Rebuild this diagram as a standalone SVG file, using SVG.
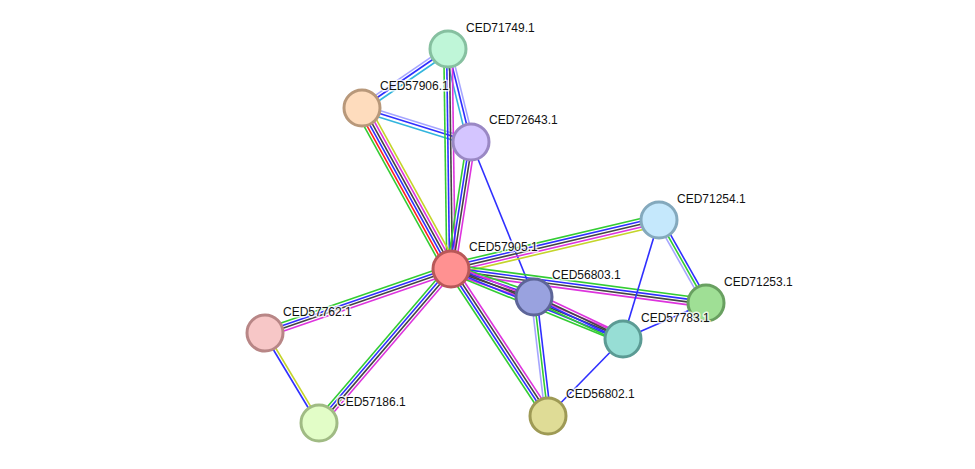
<svg xmlns="http://www.w3.org/2000/svg" width="975" height="469" viewBox="0 0 975 469">
<style>
line{stroke-width:1.6;fill:none}
.g{stroke:#33cc33}.r{stroke:#ff2020}.b{stroke:#2f2fff}.k{stroke:#444444}.m{stroke:#dd33dd}.c{stroke:#33b5dd}.y{stroke:#c4d42a}.l{stroke:#a6a6ff}
circle{stroke-width:3}
text{font-family:"Liberation Sans",Arial,sans-serif;font-size:12px;fill:#111;stroke:#fff;stroke-width:3;stroke-opacity:0.8;paint-order:stroke;stroke-linejoin:round}
</style>
<rect width="975" height="469" fill="#fff"/>
<g id="connectors">
<g transform="translate(448 49) rotate(145.55)"><line x2="104.3" y1="-3.6" y2="-3.6" class="c"/><line x2="104.3" class="b"/><line x2="104.3" y1="2.8" y2="2.8" class="l"/></g>
<g transform="translate(362 108) rotate(17.32)"><line x2="114.2" y1="-2.8" y2="-2.8" class="l"/><line x2="114.2" class="b"/><line x2="114.2" y1="3.6" y2="3.6" class="c"/></g>
<g transform="translate(448 49) rotate(76.11)"><line x2="95.8" y1="-2.8" y2="-2.8" class="l"/><line x2="95.8" class="b"/><line x2="95.8" y1="3.6" y2="3.6" class="c"/></g>
<g transform="translate(448 49) rotate(89.22)"><line x2="220" y1="-4.2" y2="-4.2" class="m"/><line x2="220" y1="-1.4" y2="-1.4" class="k"/><line x2="220" y1="1.4" y2="1.4" class="b"/><line x2="220" y1="4.2" y2="4.2" class="g"/></g>
<g transform="translate(362 108) rotate(61.06)"><line x2="184" y1="-7" y2="-7" class="y"/><line x2="184" y1="-4.2" y2="-4.2" class="m"/><line x2="184" y1="-1.4" y2="-1.4" class="k"/><line x2="184" y1="1.4" y2="1.4" class="b"/><line x2="184" y1="4.2" y2="4.2" class="r"/><line x2="184" y1="7" y2="7" class="g"/></g>
<g transform="translate(471 142) rotate(98.95)"><line x2="128.6" y1="-4.2" y2="-4.2" class="m"/><line x2="128.6" y1="-1.4" y2="-1.4" class="k"/><line x2="128.6" y1="1.4" y2="1.4" class="b"/><line x2="128.6" y1="4.2" y2="4.2" class="g"/></g>
<g transform="translate(471 142) rotate(67.88)"><line x2="167.3" class="b"/></g>
<g transform="translate(451 269) rotate(-13.26)"><line x2="213.7" y1="-5.6" y2="-5.6" class="g"/><line x2="213.7" y1="-2.8" y2="-2.8" class="b"/><line x2="213.7" class="k"/><line x2="213.7" y1="2.8" y2="2.8" class="m"/><line x2="213.7" y1="5.6" y2="5.6" class="y"/></g>
<g transform="translate(451 269) rotate(7.59)"><line x2="257.3" y1="-4.2" y2="-4.2" class="g"/><line x2="257.3" y1="-1.4" y2="-1.4" class="b"/><line x2="257.3" y1="1.4" y2="1.4" class="k"/><line x2="257.3" y1="4.2" y2="4.2" class="m"/></g>
<g transform="translate(451 269) rotate(18.64)"><line x2="87.6" y1="-4.2" y2="-4.2" class="g"/><line x2="87.6" y1="-1.4" y2="-1.4" class="b"/><line x2="87.6" y1="1.4" y2="1.4" class="k"/><line x2="87.6" y1="4.2" y2="4.2" class="m"/></g>
<g transform="translate(451 269) rotate(22.15)"><line x2="185.7" y1="-4.2" y2="-4.2" class="m"/><line x2="185.7" y1="-1.4" y2="-1.4" class="k"/><line x2="185.7" y1="1.4" y2="1.4" class="b"/><line x2="185.7" y1="4.2" y2="4.2" class="g"/></g>
<g transform="translate(451 269) rotate(56.58)"><line x2="176.1" y1="-4.2" y2="-4.2" class="m"/><line x2="176.1" y1="-1.4" y2="-1.4" class="k"/><line x2="176.1" y1="1.4" y2="1.4" class="b"/><line x2="176.1" y1="4.2" y2="4.2" class="g"/></g>
<g transform="translate(451 269) rotate(161.01)"><line x2="196.7" y1="-4.2" y2="-4.2" class="m"/><line x2="196.7" y1="-1.4" y2="-1.4" class="k"/><line x2="196.7" y1="1.4" y2="1.4" class="b"/><line x2="196.7" y1="4.2" y2="4.2" class="g"/></g>
<g transform="translate(451 269) rotate(130.6)"><line x2="202.8" y1="-4.2" y2="-4.2" class="m"/><line x2="202.8" y1="-1.4" y2="-1.4" class="k"/><line x2="202.8" y1="1.4" y2="1.4" class="b"/><line x2="202.8" y1="4.2" y2="4.2" class="g"/></g>
<g transform="translate(534 297) rotate(83.29)"><line x2="119.8" y1="-2.8" y2="-2.8" class="b"/><line x2="119.8" class="g"/><line x2="119.8" y1="2.8" y2="2.8" class="l"/></g>
<g transform="translate(534 297) rotate(25.26)"><line x2="98.4" y1="-4.2" y2="-4.2" class="m"/><line x2="98.4" y1="-1.4" y2="-1.4" class="k"/><line x2="98.4" y1="1.4" y2="1.4" class="b"/><line x2="98.4" y1="4.2" y2="4.2" class="g"/></g>
<g transform="translate(659 220) rotate(60.48)"><line x2="95.4" y1="-2.8" y2="-2.8" class="b"/><line x2="95.4" class="g"/><line x2="95.4" y1="2.8" y2="2.8" class="l"/></g>
<g transform="translate(659 220) rotate(106.83)"><line x2="124.3" class="b"/></g>
<g transform="translate(706 303) rotate(156.55)"><line x2="90.5" class="b"/></g>
<g transform="translate(623 339) rotate(134.25)"><line x2="107.5" class="b"/></g>
<g transform="translate(265 333) rotate(59.04)"><line x2="105" y1="-1.4" y2="-1.4" class="y"/><line x2="105" y1="1.4" y2="1.4" class="b"/></g>
</g>
<g id="CED71749.1"><circle cx="448" cy="49" r="18" fill="#bff6d8" stroke="#86c0a0"/><text x="466" y="32">CED71749.1</text></g>
<g id="CED57906.1"><circle cx="362" cy="108" r="18" fill="#fedcbd" stroke="#b8987a"/><text x="380" y="90">CED57906.1</text></g>
<g id="CED72643.1"><circle cx="471" cy="142" r="18" fill="#d4c5ff" stroke="#9a88c4"/><text x="489" y="124">CED72643.1</text></g>
<g id="CED71254.1"><circle cx="659" cy="220" r="18" fill="#c5e8fc" stroke="#84a9bd"/><text x="677" y="203">CED71254.1</text></g>
<g id="CED57905.1"><circle cx="451" cy="269" r="18" fill="#ff9191" stroke="#b85858"/><text x="469" y="251">CED57905.1</text></g>
<g id="CED56803.1"><circle cx="534" cy="297" r="18" fill="#99a2df" stroke="#5d6598"/><text x="552" y="279">CED56803.1</text></g>
<g id="CED71253.1"><circle cx="706" cy="303" r="18" fill="#9fdf95" stroke="#68a060"/><text x="724" y="286">CED71253.1</text></g>
<g id="CED57783.1"><circle cx="623" cy="339" r="18" fill="#97ded5" stroke="#5b9b94"/><text x="641" y="322">CED57783.1</text></g>
<g id="CED57762.1"><circle cx="265" cy="333" r="18" fill="#f7c7c7" stroke="#b88686"/><text x="283" y="316">CED57762.1</text></g>
<g id="CED57186.1"><circle cx="319" cy="423" r="18" fill="#e2fdc7" stroke="#a0bb84"/><text x="337" y="406">CED57186.1</text></g>
<g id="CED56802.1"><circle cx="548" cy="416" r="18" fill="#dfdc96" stroke="#9e9a55"/><text x="566" y="398">CED56802.1</text></g>
</svg>
